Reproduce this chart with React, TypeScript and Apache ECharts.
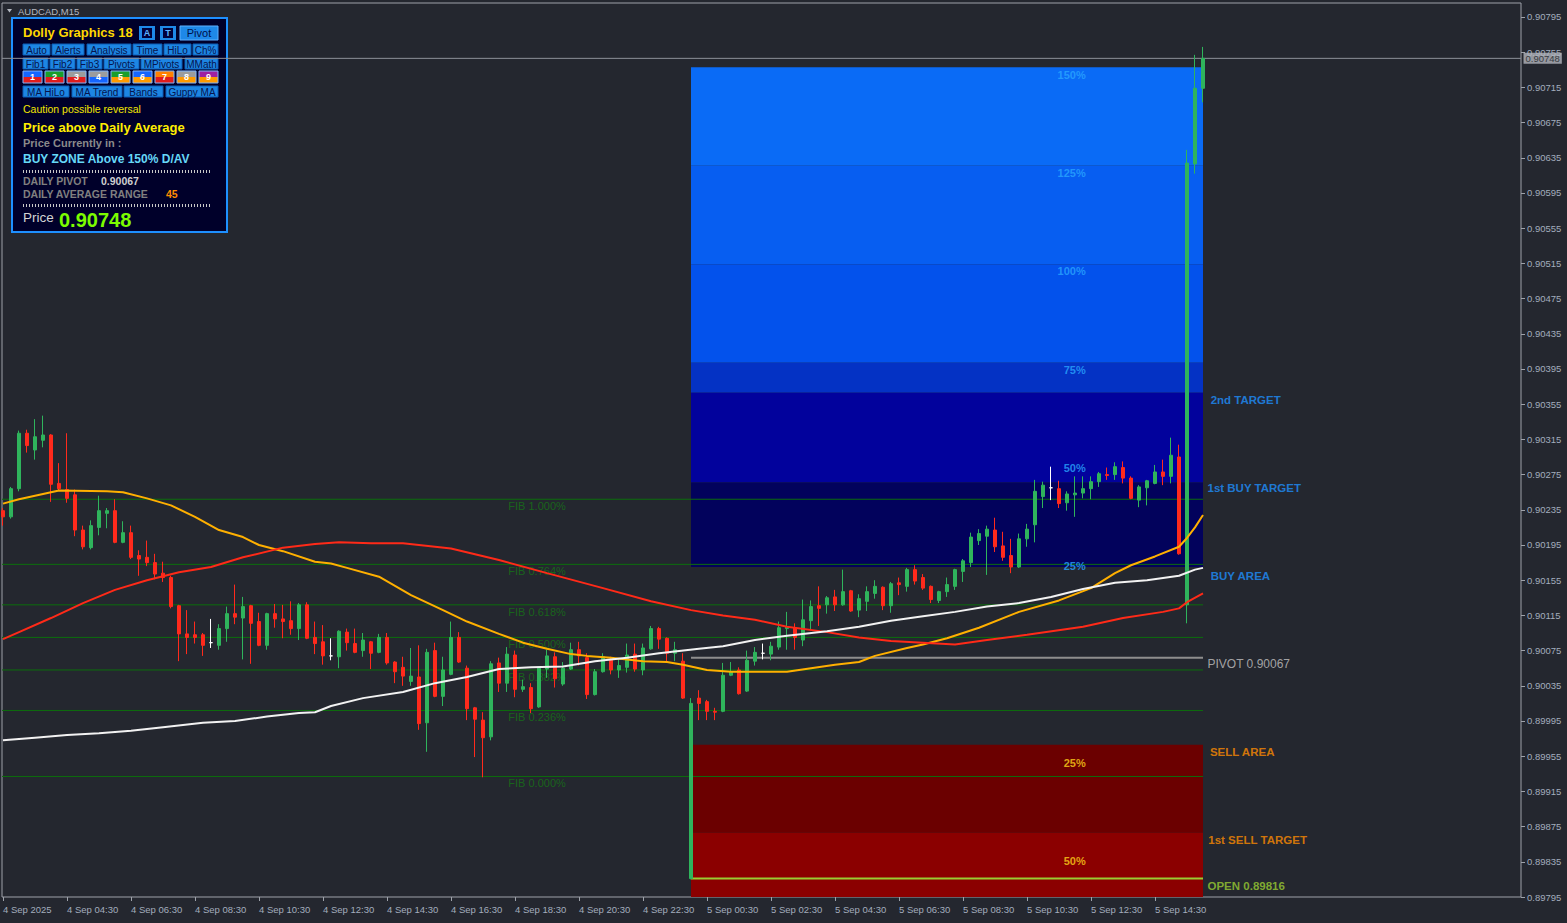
import React, { useEffect, useRef } from 'react';
import * as echarts from 'echarts';

// ---------- data ----------
const xTickBars = [0, 8, 16, 24, 32, 40, 48, 56, 64, 72, 80, 88, 96, 104, 112, 120, 128, 136, 144];
const xTickLabels = ['4 Sep 2025', '4 Sep 04:30', '4 Sep 06:30', '4 Sep 08:30', '4 Sep 10:30', '4 Sep 12:30', '4 Sep 14:30', '4 Sep 16:30', '4 Sep 18:30', '4 Sep 20:30', '4 Sep 22:30', '5 Sep 00:30', '5 Sep 02:30', '5 Sep 04:30', '5 Sep 06:30', '5 Sep 08:30', '5 Sep 10:30', '5 Sep 12:30', '5 Sep 14:30'];
const yTickValues = [0.89795, 0.89835, 0.89875, 0.89915, 0.89955, 0.89995, 0.90035, 0.90075, 0.90115, 0.90155, 0.90195, 0.90235, 0.90275, 0.90315, 0.90355, 0.90395, 0.90435, 0.90475, 0.90515, 0.90555, 0.90595, 0.90635, 0.90675, 0.90715, 0.90755, 0.90795];

// M15 candles [open, close, low, high], first bar 4 Sep 02:30
const candles = [
  [0.90234, 0.90227, 0.90217, 0.90237],
  [0.90227, 0.90259, 0.90225, 0.90261],
  [0.90259, 0.90322, 0.90256, 0.90325],
  [0.90322, 0.90308, 0.90300, 0.90326],
  [0.90303, 0.90318, 0.90292, 0.90338],
  [0.90314, 0.90320, 0.90306, 0.90342],
  [0.90320, 0.90264, 0.90244, 0.90321],
  [0.90265, 0.90259, 0.90257, 0.90288],
  [0.90258, 0.90248, 0.90243, 0.90322],
  [0.90252, 0.90212, 0.90205, 0.90258],
  [0.90212, 0.90193, 0.90190, 0.90217],
  [0.90192, 0.90217, 0.90190, 0.90223],
  [0.90215, 0.90234, 0.90206, 0.90251],
  [0.90231, 0.90234, 0.90214, 0.90237],
  [0.90234, 0.90198, 0.90197, 0.90247],
  [0.90198, 0.90209, 0.90197, 0.90222],
  [0.90209, 0.90181, 0.90179, 0.90217],
  [0.90183, 0.90179, 0.90160, 0.90189],
  [0.90181, 0.90175, 0.90171, 0.90200],
  [0.90175, 0.90162, 0.90156, 0.90185],
  [0.90163, 0.90158, 0.90153, 0.90176],
  [0.90158, 0.90125, 0.90123, 0.90160],
  [0.90126, 0.90094, 0.90063, 0.90127],
  [0.90094, 0.90090, 0.90071, 0.90121],
  [0.90093, 0.90090, 0.90083, 0.90108],
  [0.90093, 0.90081, 0.90069, 0.90095],
  [0.90084, 0.90084, 0.90078, 0.90111],
  [0.90081, 0.90100, 0.90076, 0.90105],
  [0.90100, 0.90117, 0.90085, 0.90125],
  [0.90117, 0.90113, 0.90105, 0.90150],
  [0.90112, 0.90125, 0.90065, 0.90136],
  [0.90126, 0.90106, 0.90060, 0.90127],
  [0.90108, 0.90081, 0.90080, 0.90118],
  [0.90081, 0.90117, 0.90076, 0.90118],
  [0.90117, 0.90111, 0.90101, 0.90128],
  [0.90111, 0.90108, 0.90089, 0.90127],
  [0.90109, 0.90100, 0.90093, 0.90131],
  [0.90100, 0.90127, 0.90087, 0.90129],
  [0.90127, 0.90089, 0.90088, 0.90130],
  [0.90090, 0.90083, 0.90071, 0.90108],
  [0.90085, 0.90069, 0.90059, 0.90104],
  [0.90069, 0.90069, 0.90064, 0.90089],
  [0.90068, 0.90097, 0.90055, 0.90098],
  [0.90096, 0.90084, 0.90075, 0.90100],
  [0.90083, 0.90073, 0.90072, 0.90100],
  [0.90075, 0.90087, 0.90068, 0.90095],
  [0.90085, 0.90072, 0.90054, 0.90086],
  [0.90073, 0.90090, 0.90072, 0.90094],
  [0.90090, 0.90061, 0.90059, 0.90095],
  [0.90062, 0.90051, 0.90038, 0.90063],
  [0.90056, 0.90046, 0.90035, 0.90068],
  [0.90040, 0.90046, 0.90035, 0.90078],
  [0.90045, 0.89992, 0.89985, 0.90081],
  [0.89993, 0.90073, 0.89960, 0.90077],
  [0.90075, 0.90023, 0.90022, 0.90084],
  [0.90023, 0.90053, 0.90012, 0.90068],
  [0.90048, 0.90090, 0.90047, 0.90108],
  [0.90090, 0.90062, 0.90061, 0.90096],
  [0.90055, 0.90009, 0.89996, 0.90058],
  [0.90010, 0.89997, 0.89954, 0.90011],
  [0.89996, 0.89976, 0.89931, 0.90005],
  [0.89977, 0.90060, 0.89973, 0.90063],
  [0.90061, 0.90038, 0.90028, 0.90067],
  [0.90038, 0.90071, 0.90028, 0.90079],
  [0.90070, 0.90031, 0.90022, 0.90075],
  [0.90031, 0.90034, 0.90028, 0.90042],
  [0.90033, 0.90009, 0.90004, 0.90038],
  [0.90011, 0.90055, 0.90010, 0.90056],
  [0.90054, 0.90069, 0.90044, 0.90076],
  [0.90068, 0.90043, 0.90033, 0.90073],
  [0.90037, 0.90055, 0.90035, 0.90062],
  [0.90054, 0.90076, 0.90053, 0.90084],
  [0.90076, 0.90069, 0.90058, 0.90085],
  [0.90067, 0.90025, 0.90020, 0.90072],
  [0.90025, 0.90051, 0.90024, 0.90054],
  [0.90051, 0.90068, 0.90050, 0.90072],
  [0.90064, 0.90053, 0.90048, 0.90068],
  [0.90053, 0.90058, 0.90044, 0.90065],
  [0.90056, 0.90070, 0.90050, 0.90083],
  [0.90071, 0.90054, 0.90051, 0.90083],
  [0.90053, 0.90078, 0.90047, 0.90083],
  [0.90077, 0.90100, 0.90076, 0.90103],
  [0.90100, 0.90088, 0.90077, 0.90102],
  [0.90089, 0.90072, 0.90062, 0.90090],
  [0.90072, 0.90076, 0.90063, 0.90085],
  [0.90063, 0.90021, 0.90020, 0.90072],
  [0.89816, 0.90015, 0.89815, 0.90021],
  [0.90021, 0.90015, 0.89996, 0.90030],
  [0.90017, 0.90006, 0.89996, 0.90019],
  [0.90006, 0.90005, 0.89996, 0.90010],
  [0.90006, 0.90047, 0.90005, 0.90061],
  [0.90047, 0.90051, 0.90046, 0.90062],
  [0.90053, 0.90026, 0.90025, 0.90056],
  [0.90029, 0.90064, 0.90028, 0.90075],
  [0.90063, 0.90073, 0.90058, 0.90079],
  [0.90072, 0.90072, 0.90065, 0.90083],
  [0.90071, 0.90080, 0.90064, 0.90085],
  [0.90079, 0.90101, 0.90076, 0.90108],
  [0.90100, 0.90102, 0.90076, 0.90119],
  [0.90101, 0.90090, 0.90076, 0.90106],
  [0.90087, 0.90110, 0.90080, 0.90133],
  [0.90109, 0.90125, 0.90098, 0.90132],
  [0.90126, 0.90123, 0.90103, 0.90148],
  [0.90127, 0.90135, 0.90117, 0.90137],
  [0.90136, 0.90127, 0.90120, 0.90144],
  [0.90127, 0.90142, 0.90126, 0.90167],
  [0.90143, 0.90120, 0.90119, 0.90144],
  [0.90121, 0.90134, 0.90113, 0.90139],
  [0.90131, 0.90142, 0.90120, 0.90148],
  [0.90140, 0.90148, 0.90134, 0.90155],
  [0.90147, 0.90126, 0.90121, 0.90148],
  [0.90126, 0.90151, 0.90118, 0.90153],
  [0.90152, 0.90150, 0.90138, 0.90158],
  [0.90148, 0.90167, 0.90142, 0.90169],
  [0.90167, 0.90154, 0.90150, 0.90172],
  [0.90158, 0.90146, 0.90144, 0.90162],
  [0.90148, 0.90133, 0.90129, 0.90149],
  [0.90132, 0.90142, 0.90129, 0.90143],
  [0.90142, 0.90150, 0.90136, 0.90158],
  [0.90148, 0.90167, 0.90144, 0.90168],
  [0.90165, 0.90177, 0.90153, 0.90179],
  [0.90175, 0.90204, 0.90170, 0.90209],
  [0.90200, 0.90208, 0.90195, 0.90213],
  [0.90205, 0.90213, 0.90161, 0.90217],
  [0.90212, 0.90193, 0.90187, 0.90226],
  [0.90194, 0.90181, 0.90177, 0.90210],
  [0.90183, 0.90170, 0.90163, 0.90202],
  [0.90170, 0.90202, 0.90169, 0.90208],
  [0.90202, 0.90213, 0.90193, 0.90219],
  [0.90218, 0.90256, 0.90198, 0.90269],
  [0.90250, 0.90263, 0.90237, 0.90267],
  [0.90260, 0.90260, 0.90246, 0.90284],
  [0.90259, 0.90242, 0.90237, 0.90268],
  [0.90243, 0.90253, 0.90234, 0.90256],
  [0.90252, 0.90254, 0.90227, 0.90273],
  [0.90254, 0.90259, 0.90248, 0.90273],
  [0.90259, 0.90267, 0.90247, 0.90273],
  [0.90267, 0.90276, 0.90261, 0.90278],
  [0.90275, 0.90274, 0.90269, 0.90283],
  [0.90275, 0.90284, 0.90269, 0.90289],
  [0.90283, 0.90271, 0.90265, 0.90290],
  [0.90271, 0.90248, 0.90247, 0.90273],
  [0.90246, 0.90261, 0.90238, 0.90263],
  [0.90260, 0.90268, 0.90240, 0.90269],
  [0.90265, 0.90278, 0.90264, 0.90286],
  [0.90278, 0.90273, 0.90263, 0.90292],
  [0.90273, 0.90297, 0.90265, 0.90317],
  [0.90295, 0.90185, 0.90184, 0.90309],
  [0.90127, 0.90629, 0.90106, 0.90644],
  [0.90628, 0.90714, 0.90617, 0.90752],
  [0.90714, 0.90748, 0.90698, 0.90761],
];

// moving averages [bar, price]
const maOrange = [
  [0, 0.90242], [2, 0.90247], [4, 0.90251], [7, 0.90257], [13, 0.90256], [15, 0.90255], [18, 0.90248], [21, 0.90240],
  [24, 0.90227], [27, 0.90212], [30, 0.90204], [32, 0.90195], [35, 0.90188], [39, 0.90176], [41, 0.90174], [43, 0.90169],
  [47, 0.90159], [51, 0.90138], [55, 0.90121], [58, 0.90108], [62, 0.90094], [65, 0.90084], [68, 0.90077], [71, 0.90071],
  [73, 0.90069], [76, 0.90067], [80, 0.90063], [83, 0.90062], [85, 0.90059], [87, 0.90055], [88, 0.90053], [91, 0.90051],
  [98, 0.90051], [101, 0.90055], [104, 0.90059], [107, 0.90062], [109, 0.90069], [113, 0.90078], [115, 0.90082],
  [118, 0.90089], [122, 0.90101], [127, 0.90119], [132, 0.90132], [136, 0.90146], [139, 0.90163], [141, 0.90172],
  [144, 0.90182], [147, 0.90193], [148, 0.90203], [149, 0.90215], [150, 0.90229],
];
const maRed = [
  [0, 0.90088], [2, 0.90096], [6, 0.90112], [10, 0.90129], [14, 0.90144], [18, 0.90155], [22, 0.90164], [26, 0.90170],
  [30, 0.90181], [35, 0.90192], [39, 0.90196], [42, 0.90198], [46, 0.90197], [50, 0.90197], [56, 0.90191], [62, 0.90178],
  [68, 0.90163], [75, 0.90146], [81, 0.90131], [86, 0.90121], [90, 0.90115], [94, 0.90110], [98, 0.90102], [103, 0.90096],
  [107, 0.90090], [111, 0.90086], [115, 0.90084], [119, 0.90082], [123, 0.90087], [128, 0.90093], [135, 0.90102],
  [140, 0.90112], [145, 0.90119], [147, 0.90123], [148, 0.90130], [150, 0.90140],
];
const maWhite = [
  [0, 0.89973], [4, 0.89976], [8, 0.89979], [12, 0.89981], [16, 0.89984], [20, 0.89988], [25, 0.89993], [29, 0.89995],
  [33, 0.90000], [37, 0.90004], [39, 0.90005], [41, 0.90012], [45, 0.90021], [50, 0.90028], [54, 0.90038], [58, 0.90045],
  [62, 0.90054], [66, 0.90056], [70, 0.90057], [74, 0.90063], [78, 0.90067], [82, 0.90072], [87, 0.90077], [90, 0.90080],
  [94, 0.90087], [98, 0.90092], [103, 0.90097], [107, 0.90102], [111, 0.90109], [115, 0.90114], [119, 0.90119],
  [123, 0.90125], [127, 0.90129], [131, 0.90136], [135, 0.90145], [139, 0.90152], [143, 0.90155], [147, 0.90160],
  [149, 0.90167], [150, 0.90169],
];

const fibNames = ['FIB 1.000%', 'FIB 0.764%', 'FIB 0.618%', 'FIB 0.500%', 'FIB 0.382%', 'FIB 0.236%', 'FIB 0.000%'];
const fibPrices = [0.90247, 0.90173, 0.90127, 0.90090, 0.90053, 0.90007, 0.89932];

const pivotPrice = 0.90067;
const openPrice = 0.89816;
const currentPrice = 0.90748;
const dailyAverageRange = 45;

const buyZoneEdges = [0.90738, 0.90626, 0.90514, 0.90402, 0.90368, 0.90266, 0.90170];
const sellZoneEdges = [0.89968, 0.89868, 0.89795];

const buyPctLabels = ['150%', '125%', '100%', '75%', '50%', '25%'];
const buyPctPrices = [0.90729, 0.90618, 0.90506, 0.90394, 0.90282, 0.90171];
const sellPctLabels = ['25%', '50%'];
const sellPctPrices = [0.89947, 0.89836];

const levelLabels = ['2nd TARGET', '1st BUY TARGET', 'BUY AREA', 'PIVOT 0.90067', 'SELL AREA', '1st SELL TARGET', 'OPEN 0.89816'];
const levelLabelPrices = [0.90360, 0.90260, 0.90160, 0.90060, 0.89960, 0.89860, 0.89808];

// ---------- styles ----------
const BG = '#24272f';
const FONT = '"Liberation Sans", Arial, sans-serif';
const AXIS_LABEL = '#a3adbd';
const UP = '#2fb45c';
const DOWN = '#ff2a1c';
const BUY_ZONE_COLORS = ['#0a6bf6', '#075ef1', '#0352ec', '#0432c4', '#02029c', '#02025c'];
const SELL_ZONE_COLORS = ['#6b0000', '#8b0000'];
const LEVEL_COLORS = ['#1e90ff', '#1e90ff', '#1e90ff', '#c4c4c4', '#ff8c00', '#ff8c00', '#9acd32'];
const LEVEL_X = [150.9, 150.5, 150.9, 150.5, 150.8, 150.6, 150.5];
const ZONE_START = 86;
const ZONE_END = 150;
const X_MIN = -0.125;
const X_MAX = 189.75;

function buildPanel() {
  const els: any[] = [];
  const txt = (text: string, x: number, y: number, fill: string, font: string, align = 'left') => ({
    type: 'text', x, y, silent: true,
    style: { text, fill, font, align, textAlign: align, verticalAlign: 'middle', textVerticalAlign: 'middle' },
  });
  els.push({ type: 'rect', shape: { x: 12, y: 18, width: 215, height: 214 }, style: { fill: '#00002a', stroke: '#1e90ff', lineWidth: 2 } });
  els.push(txt('Dolly Graphics 18', 23, 32, '#ffd700', `bold 13px ${FONT}`));
  [[139, 'A'], [160, 'T']].forEach(([x, t]: any) => {
    els.push({ type: 'rect', shape: { x, y: 26, width: 16, height: 14 }, style: { fill: '#1e88e8' } });
    els.push({ type: 'rect', shape: { x: x + 3, y: 28, width: 10, height: 10 }, style: { fill: '#00003a' } });
    els.push(txt(t, x + 8, 33, '#5cb2ff', `bold 9px ${FONT}`, 'center'));
  });
  els.push({ type: 'rect', shape: { x: 180, y: 26, width: 38, height: 14 }, style: { fill: '#1e88e8', stroke: '#5fb0ff', lineWidth: 1 } });
  els.push(txt('Pivot', 199, 33, '#00104a', `11px ${FONT}`, 'center'));

  const rows: any[] = [
    [44, [['Auto', 23, 50], ['Alerts', 52, 84], ['Analysis', 87, 131], ['Time', 133, 162], ['HiLo', 164, 191], ['Ch%', 193, 218]]],
    [58, [['Fib1', 23, 48], ['Fib2', 50, 75], ['Fib3', 77, 102], ['Pivots', 104, 139], ['MPivots', 141, 182], ['MMath', 185, 218]]],
    [86, [['MA HiLo', 23, 69], ['MA Trend', 72, 122], ['Bands', 124, 163], ['Guppy MA', 166, 218]]],
  ];
  rows.forEach(([y, items]) => {
    items.forEach(([label, x1, x2]: any) => {
      els.push({ type: 'rect', shape: { x: x1, y, width: x2 - x1, height: 11 }, style: { fill: '#1d86e3', stroke: '#0d5cb4', lineWidth: 1 } });
      els.push(txt(label, (x1 + x2) / 2, y + 6, '#06154f', `10px ${FONT}`, 'center'));
    });
  });
  const colorBoxes: any[] = [
    ['1', 23, '#1565ff', '#e01c1c'], ['2', 45, '#1a9e2a', '#e01c1c'], ['3', 67, '#9c9c9c', '#e01c1c'],
    ['4', 89, '#9c9c9c', '#1565ff'], ['5', 111, '#1a9e2a', '#ff9a00'], ['6', 133, '#1565ff', '#ff9a00'],
    ['7', 155, '#ff8000', '#e01c1c'], ['8', 177, '#9c9c9c', '#ff9a00'], ['9', 199, '#a020a0', '#ff9a00'],
  ];
  colorBoxes.forEach(([n, x, top, bot]) => {
    els.push({ type: 'rect', shape: { x, y: 71, width: 19, height: 6 }, style: { fill: top } });
    els.push({ type: 'rect', shape: { x, y: 77, width: 19, height: 6 }, style: { fill: bot } });
    els.push({ type: 'rect', shape: { x, y: 71, width: 19, height: 12 }, style: { fill: 'none', stroke: '#7fb6ff', lineWidth: 1 } });
    els.push(txt(n, x + 9.5, 77, '#ffffff', `bold 9px ${FONT}`, 'center'));
  });
  els.push(txt('Caution possible reversal', 23, 109, '#f2e600', `10.5px ${FONT}`));
  els.push(txt('Price above Daily Average', 23, 127, '#ffee00', `bold 13px ${FONT}`));
  els.push(txt('Price Currently in :', 23, 143, '#8a8a8a', `bold 11px ${FONT}`));
  els.push(txt('BUY ZONE Above 150% D/AV', 23, 159, '#66d8f8', `bold 12px ${FONT}`));
  els.push({ type: 'line', shape: { x1: 23, y1: 171.5, x2: 211, y2: 171.5 }, style: { stroke: '#c8c8c8', lineWidth: 3, lineDash: [1, 2] } });
  els.push(txt('DAILY PIVOT', 23, 181, '#808080', `bold 10.5px ${FONT}`));
  els.push(txt(pivotPrice.toFixed(5), 101, 181, '#cfcfcf', `bold 10.5px ${FONT}`));
  els.push(txt('DAILY AVERAGE RANGE', 23, 194, '#808080', `bold 10.5px ${FONT}`));
  els.push(txt(String(dailyAverageRange), 166, 194, '#ff8c00', `bold 10.5px ${FONT}`));
  els.push({ type: 'line', shape: { x1: 23, y1: 205.5, x2: 211, y2: 205.5 }, style: { stroke: '#c8c8c8', lineWidth: 3, lineDash: [1, 2] } });
  els.push(txt('Price', 23, 217, '#d4d4d4', `13.5px ${FONT}`));
  els.push(txt(currentPrice.toFixed(5), 59, 220, '#7cfc00', `bold 20px ${FONT}`));
  els.push({ type: 'polygon', shape: { points: [[7, 9], [12, 9], [9.5, 12.5]] }, style: { fill: '#b4b8c0' } });
  els.push(txt('AUDCAD,M15', 18, 11, '#b4b8c0', `9.5px ${FONT}`));
  return els;
}

function labelSeries(name: string, points: any[], color: string, font: any, position: string, z: number, offset: number[] = [0, 0], extra: any = {}) {
  return {
    type: 'scatter', name, silent: true, z, clip: false,
    symbol: 'circle', symbolSize: 1,
    itemStyle: { color: 'rgba(0,0,0,0)' },
    data: points.map(([x, y, t]) => ({ value: [x, y], name: t })),
    label: {
      show: true, position, distance: 0, formatter: '{b}', color, offset,
      fontFamily: FONT, fontSize: font.size, fontWeight: font.weight, ...extra,
    },
  };
}

export default function App() {
  const ref = useRef<HTMLDivElement>(null);
  useEffect(() => {
    document.body.style.margin = '0';
    document.body.style.background = BG;
    const chart = echarts.init(ref.current!, null, { renderer: 'svg' });

    const doji = { color: '#ffffff', color0: '#ffffff', borderColor: '#ffffff', borderColor0: '#ffffff' };
    const candleData = candles.map((c, i) => {
      const item: any = { value: [i, c[0], c[1], c[2], c[3]] };
      if (c[0] === c[1]) item.itemStyle = doji;
      return item;
    });

    const zoneAreas: any[] = [];
    for (let k = 0; k < buyZoneEdges.length - 1; k++) {
      zoneAreas.push([{ coord: [ZONE_START, buyZoneEdges[k]], itemStyle: { color: BUY_ZONE_COLORS[k], opacity: 1 } }, { coord: [ZONE_END, buyZoneEdges[k + 1]] }]);
    }
    for (let k = 0; k < sellZoneEdges.length - 1; k++) {
      zoneAreas.push([{ coord: [ZONE_START, sellZoneEdges[k]], itemStyle: { color: SELL_ZONE_COLORS[k], opacity: 1 } }, { coord: [ZONE_END, sellZoneEdges[k + 1]] }]);
    }

    const hLine = (name: string, price: number, from: number, to: number, color: string, width: number, z: number) => ({
      type: 'line', name, silent: true, z, symbol: 'none', showSymbol: false,
      data: [[from, price], [to, price]],
      lineStyle: { color, width },
    });

    const maLine = (name: string, data: number[][], color: string) => ({
      type: 'line', name, silent: true, z: 4, symbol: 'none', showSymbol: false,
      data, lineStyle: { color, width: 2 },
    });

    const series: any[] = [
      {
        type: 'candlestick', name: 'AUDCAD', silent: true, z: 3,
        barWidth: 4,
        data: candleData,
        itemStyle: { color: UP, color0: DOWN, borderColor: UP, borderColor0: DOWN, borderColorDoji: '#ffffff', borderWidth: 1 },
        markArea: { silent: true, z: 1, data: zoneAreas },
      },
      hLine('price line', currentPrice, X_MIN, X_MAX, '#8d9199', 1, 2),
      ...fibPrices.map((p, k) => hLine(fibNames[k], p, X_MIN, ZONE_END, '#0c6e0c', 1, 2)),
      hLine('pivot', pivotPrice, ZONE_START, ZONE_END, '#8e8e8e', 2, 2),
      hLine('open', openPrice, ZONE_START, ZONE_END, '#9acd32', 2, 2),
      maLine('MA fast', maOrange, '#ffb000'),
      maLine('MA mid', maRed, '#ff2a18'),
      maLine('MA slow', maWhite, '#f2f2f2'),
      labelSeries('fib labels', fibPrices.map((p, k) => [63.1, p, fibNames[k]]), '#167516', { size: 11, weight: 'normal' }, 'right', 2.5, [0, 7]),
      labelSeries('buy pct', buyPctPrices.map((p, k) => [135.4, p, buyPctLabels[k]]), '#2aa6ff', { size: 11, weight: 'bold' }, 'left', 5),
      labelSeries('sell pct', sellPctPrices.map((p, k) => [135.4, p, sellPctLabels[k]]), '#ffd21a', { size: 11, weight: 'bold' }, 'left', 5),
      ...levelLabels.map((t, k) => labelSeries('lvl' + k, [[LEVEL_X[k], levelLabelPrices[k], t]], LEVEL_COLORS[k], { size: k === 3 ? 12 : 11.5, weight: k === 3 ? 'normal' : 'bold' }, 'right', 5)),
      labelSeries('price tag', [[X_MAX, currentPrice, currentPrice.toFixed(5)]], '#1b1d24', { size: 9.5, weight: 'normal' }, 'right', 8, [2, 0],
        { backgroundColor: '#b3b7be', padding: [1, 2, 0, 2] }),
    ];

    const option: any = {
      animation: false,
      backgroundColor: BG,
      textStyle: { fontFamily: FONT },
      grid: { left: 2, right: 46, top: 3, bottom: 26, show: true, borderColor: '#9ea2aa', borderWidth: 1, backgroundColor: BG },
      xAxis: {
        type: 'value', min: X_MIN, max: X_MAX,
        splitLine: { show: false },
        axisLine: { show: false, onZero: false },
        axisTick: { show: true, customValues: xTickBars, length: 4, lineStyle: { color: '#9ea2aa' } },
        axisLabel: {
          show: true, customValues: xTickBars, align: 'left', color: AXIS_LABEL, fontSize: 9.5, margin: 7, fontFamily: FONT,
          formatter: (v: number) => { const i = xTickBars.indexOf(Math.round(v)); return i >= 0 ? xTickLabels[i] : ''; },
        },
      },
      yAxis: {
        type: 'value', position: 'right', min: 0.89795, max: 0.908109,
        splitLine: { show: false },
        axisLine: { show: false, onZero: false },
        axisTick: { show: true, customValues: yTickValues, length: 4, lineStyle: { color: '#9ea2aa' } },
        axisLabel: {
          show: true, customValues: yTickValues, color: AXIS_LABEL, fontSize: 9.5, margin: 6, fontFamily: FONT,
          formatter: (v: number) => v.toFixed(5),
        },
      },
      graphic: buildPanel(),
      series,
    };
    chart.setOption(option);
    return () => chart.dispose();
  }, []);
  return <div ref={ref} style={{ width: 1567, height: 923, background: BG }} />;
}
